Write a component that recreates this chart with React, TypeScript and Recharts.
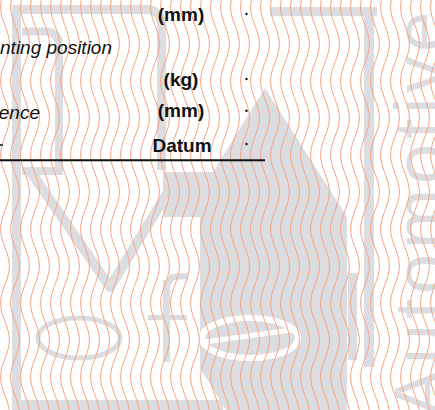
import { ScatterChart, Scatter, XAxis, YAxis } from "recharts";

const W = 435;
const H = 410;
const GRAY = "#dcdde0";
const INK = "#111111";
const WAVE = "#f5a283";

// table rows (unit column, bold)
const unitLabels = ["(mm)", "(kg)", "(mm)", "Datum"];
const unitX = [181, 181, 181, 182];
const unitY = [21, 85.5, 117, 152];

// description column (italic, cut at the left edge)
const descLabels = ["nting position", "ence"];
const descX = [112, 40];
const descY = [54, 118.5];

// value column dots
const dotX = [246.5, 246.5, 246.5, 246.5];
const dotY = [14, 79, 110.7, 144];

// rule under the table, and the stray mark at its left end
const ruleX = [0, 265];
const ruleY = [160.3, 160.3];
const markX = [0, 3];
const markY = [145, 145];

// watermark: arrow outline
const arrowX = [265, 347, 347, 226, 200, 200, 163, 163, 213];
const arrowY = [88, 217, 410, 410, 368, 217, 217, 172, 172];

// watermark bars: x1, x2, y1, y2
const barX1 = [12, 12, 22, 270, 364, 348, 163, 148];
const barX2 = [21, 223, 63, 377, 374, 357, 170, 187];
const barY1 = [5, 400, 167, 7, 7, 273, 280, 315];
const barY2 = [410, 410, 175, 16, 367, 360, 362, 320];

// watermark rounded strokes (outer frame, inner frame)
const frameX = [16, 161.5, 161.5];
const frameY = [9.5, 9.5, 170];
const innerX = [22, 59, 59];
const innerY = [31.5, 31.5, 168];

// watermark strokes (V arms, f hook)
const vX = [28, 110, 179];
const vY = [168, 287, 174];
const hookX = [166.5, 172, 188];
const hookY = [286, 277, 276];

// watermark letter bowls
const bowlX = [79, 250];
const bowlY = [338, 338];

const pts = (xs: number[], ys: number[]) => xs.map((x, i) => ({ x, y: ys[i] }));

const rectPts = (i: number) => [
  { x: barX1[i], y: barY1[i] },
  { x: barX2[i], y: barY1[i] },
  { x: barX2[i], y: barY2[i] },
  { x: barX1[i], y: barY2[i] },
];

const toStr = (p: any[]) => (p || []).map((q) => `${q.x},${q.y}`).join(" ");

const polygon = (fill: string) => (props: any) => (
  <polygon points={toStr(props.points)} fill={fill} stroke="none" />
);

const polyline = (stroke: string, width: number) => (props: any) => (
  <polyline
    points={toStr(props.points)}
    fill="none"
    stroke={stroke}
    strokeWidth={width}
    strokeLinejoin="round"
  />
);

// three points: start, corner, end -> corner drawn rounded
const cornerLine = (stroke: string, width: number, r: number) => (props: any) => {
  const [a, c, b] = props.points || [];
  if (!a || !c || !b) return <g />;
  const d = `M${a.x},${a.y} L${c.x - r},${c.y} Q${c.x},${c.y} ${c.x},${c.y + r} L${b.x},${b.y}`;
  return <path d={d} fill="none" stroke={stroke} strokeWidth={width} />;
};

const noShape = () => <g />;

// background wavy lines filling the frame given by two corner points
const waveLayer = (props: any) => {
  const [a, b] = props.points || [];
  if (!a || !b) return <g />;
  return (
    <g>
      <defs>
        <pattern id="waves" patternUnits="userSpaceOnUse" x={0} y={7} width={10} height={74}>
          <path
            d="M0.6,0 C0.6,13.3 9.4,23.7 9.4,37 C9.4,50.3 0.6,60.7 0.6,74"
            fill="none"
            stroke={WAVE}
            strokeWidth={1}
          />
        </pattern>
      </defs>
      <rect x={a.x} y={a.y} width={b.x - a.x} height={b.y - a.y} fill="url(#waves)" />
    </g>
  );
};

const fontFamily = "'Liberation Sans', Arial, sans-serif";

export default function App() {
  const bowls = pts(bowlX, bowlY).map((p, i) => ({ ...p, kind: i === 0 ? "p" : "e" }));

  return (
    <div style={{ position: "absolute", left: 0, top: 0, background: "#fff" }}>
      <ScatterChart width={W} height={H} margin={{ top: 0, right: 0, bottom: 0, left: 0 }}>
        <XAxis type="number" dataKey="x" domain={[0, W]} allowDataOverflow hide />
        <YAxis type="number" dataKey="y" domain={[0, H]} allowDataOverflow reversed hide />

        {/* watermark */}
        <Scatter data={pts(arrowX, arrowY)} line={polygon(GRAY)} shape={noShape} isAnimationActive={false} />
        {barX1.map((_, i) => (
          <Scatter key={`bar${i}`} data={rectPts(i)} line={polygon(GRAY)} shape={noShape} isAnimationActive={false} />
        ))}
        <Scatter data={pts(frameX, frameY)} line={cornerLine(GRAY, 9, 16)} shape={noShape} isAnimationActive={false} />
        <Scatter data={pts(innerX, innerY)} line={cornerLine(GRAY, 8, 14)} shape={noShape} isAnimationActive={false} />
        <Scatter data={pts(vX, vY)} line={polyline(GRAY, 10)} shape={noShape} isAnimationActive={false} />
        <Scatter data={pts(hookX, hookY)} line={polyline(GRAY, 6)} shape={noShape} isAnimationActive={false} />
        <Scatter
          data={bowls}
          isAnimationActive={false}
          shape={(p: any) =>
            p.payload.kind === "p" ? (
              <ellipse cx={p.cx} cy={p.cy} rx={41} ry={20} fill="none" stroke={GRAY} strokeWidth={5} />
            ) : (
              <g>
                <ellipse cx={p.cx} cy={p.cy} rx={48} ry={20} fill="none" stroke="#ffffff" strokeWidth={6} />
                <line x1={p.cx - 46} y1={p.cy + 4} x2={p.cx + 42} y2={p.cy - 8} stroke="#ffffff" strokeWidth={5} />
              </g>
            )
          }
        />
        <Scatter
          data={[{ x: 445, y: 417 }]}
          isAnimationActive={false}
          shape={(p: any) => (
            <text
              x={p.cx}
              y={p.cy}
              transform={`rotate(-90 ${p.cx} ${p.cy})`}
              fill={GRAY}
              fontFamily={fontFamily}
              fontSize={72}
              letterSpacing={5}
            >
              Automotive
            </text>
          )}
        />

        {/* wavy security lines */}
        <Scatter data={[{ x: 0, y: 0 }, { x: W, y: H }]} line={waveLayer} shape={noShape} isAnimationActive={false} />

        {/* table */}
        <Scatter data={pts(ruleX, ruleY)} line={polyline(INK, 2)} shape={noShape} isAnimationActive={false} />
        <Scatter data={pts(markX, markY)} line={polyline(INK, 1.5)} shape={noShape} isAnimationActive={false} />
        <Scatter
          data={pts(dotX, dotY)}
          isAnimationActive={false}
          shape={(p: any) => <circle cx={p.cx} cy={p.cy} r={1.2} fill={INK} />}
        />
        <Scatter
          data={unitLabels.map((label, i) => ({ x: unitX[i], y: unitY[i], label }))}
          isAnimationActive={false}
          shape={(p: any) => (
            <text x={p.cx} y={p.cy} textAnchor="middle" fontFamily={fontFamily} fontWeight="bold" fontSize={19} fill={INK}>
              {p.payload.label}
            </text>
          )}
        />
        <Scatter
          data={descLabels.map((label, i) => ({ x: descX[i], y: descY[i], label }))}
          isAnimationActive={false}
          shape={(p: any) => (
            <text x={p.cx} y={p.cy} textAnchor="end" fontFamily={fontFamily} fontStyle="italic" fontSize={19} fill={INK}>
              {p.payload.label}
            </text>
          )}
        />
      </ScatterChart>
    </div>
  );
}
